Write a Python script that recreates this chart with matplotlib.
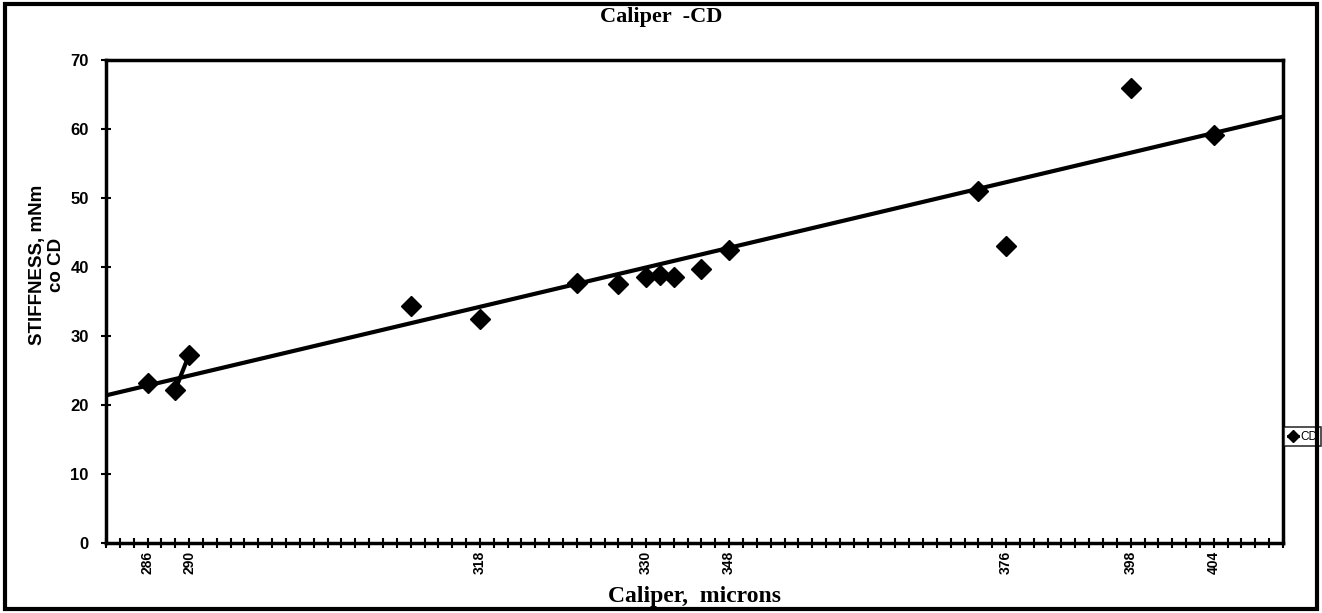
import numpy as np
import matplotlib.pyplot as plt

# category index on the x axis (one tick per sample row)
cat_idx = [3, 5, 6, 22, 27, 34, 37, 39, 40, 41, 43, 45, 63, 65, 74, 80]
stiffness = [23.2, 22.2, 27.3, 34.4, 32.5, 37.7, 37.6, 38.6, 38.8, 38.6,
             39.7, 42.4, 51.0, 43.0, 65.9, 59.2]
n_cats = 85

# labelled categories
label_idx = [3, 6, 27, 39, 45, 65, 74, 80]
label_txt = ["286", "290", "318", "330", "348", "376", "398", "404"]

# linear trend line, ends read at the axis edges
trend_x = [0, n_cats]
trend_y = [21.4, 61.8]

# fill gaps with NaN so only neighbouring rows get joined
series = np.full(n_cats + 1, np.nan)
series[cat_idx] = stiffness

fig = plt.figure(figsize=(13.22, 6.13), dpi=100)
ax = fig.add_axes([0.0802, 0.1142, 0.8903, 0.7878])

ax.plot(trend_x, trend_y, color="black", lw=3, solid_capstyle="butt")
ax.plot(np.arange(n_cats + 1), series, color="black", lw=3, marker="D", ms=10)

ax.set_xlim(0, n_cats)
ax.set_ylim(0, 70)
ax.set_yticks(range(0, 71, 10))
ax.set_yticklabels([str(v) for v in range(0, 71, 10)],
                   fontsize=12, fontweight="bold", family="Liberation Sans")
ax.set_xticks(range(0, n_cats + 1))
ticklabs = [""] * (n_cats + 1)
for i, t in zip(label_idx, label_txt):
    ticklabs[i] = t
ax.set_xticklabels(ticklabs, rotation=90, fontsize=10, fontweight="bold",
                   family="Liberation Sans")
ax.tick_params(axis="both", direction="inout", length=7, width=1.5, color="black")
ax.tick_params(axis="x", pad=2)
ax.tick_params(axis="y", pad=9)
for sp in ax.spines.values():
    sp.set_linewidth(2.5)

ax.set_xlabel("Caliper,  microns", fontsize=17, fontweight="bold",
              family="Liberation Serif")
ax.xaxis.set_label_coords(0.5, -0.089)

fig.text(0.0356, 0.568, "STIFFNESS, mNm\nco CD", rotation=90, ha="center",
         va="center", multialignment="center", fontsize=13.5, fontweight="bold",
         family="Liberation Sans", linespacing=1.1)

fig.text(0.5, 0.972, "Caliper  -CD", ha="center", va="center", fontsize=16,
         fontweight="bold", family="Liberation Serif")

# legend outside to the right, squeezed between plot and outer frame
leg = ax.legend([ax.lines[1]], ["CD"], loc="center left",
                bbox_to_anchor=(1.001, 0.22), frameon=True, fancybox=False,
                borderpad=0.3, borderaxespad=0, handlelength=0.9,
                handletextpad=0.15, prop={"family": "Liberation Sans", "size": 8.5})
leg.get_frame().set_edgecolor("black")
leg.get_frame().set_linewidth(1.2)
leg.legend_handles[0].set_markersize(6)
leg.legend_handles[0].set_linewidth(2)

# outer frame of the chart
fig.patches.append(plt.Rectangle((0.004, 0.006), 0.992, 0.988, transform=fig.transFigure,
                                 fill=False, lw=3, color="black"))

fig.savefig("out.png", dpi=100)
